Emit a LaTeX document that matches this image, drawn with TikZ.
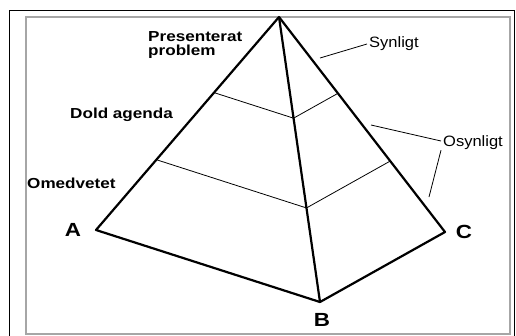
\documentclass[tikz,border=0pt]{standalone}
\usepackage{fontspec}
\setmainfont{Liberation Sans}
\newfontfamily\labfont[FakeStretch=1.18]{Liberation Sans}
\newfontfamily\notefont[FakeStretch=1.1]{Liberation Sans}
\usetikzlibrary{calc}
\usetikzlibrary{positioning}

\begin{document}
\begin{tikzpicture}[x=1pt, y=-1pt,
        edge/.style={line width=2.2pt, line join=round},
        layer/.style={line width=0.8pt},
        leader/.style={line width=0.8pt},
        levelname/.style={inner sep=0pt, font=\labfont\bfseries\fontsize{14.5}{14}\selectfont, align=left},
        note/.style={inner sep=2pt, font=\notefont\fontsize{15}{15}\selectfont},
        corner/.style={inner sep=0pt, font=\labfont\bfseries\fontsize{19}{19}\selectfont}]
            \useasboundingbox (0,0) rectangle (516,335);
            % frames
            \draw[line width=1pt] (9,340) -- (9,10) -- (514,10) -- (514,340);
            \draw[gray!70, line width=1.5pt] (26,17) rectangle (510,334);
            % pyramid
            \coordinate (apex) at (279,17);
            \coordinate (A) at (96,230);
            \coordinate (B) at (320,302);
            \coordinate (C) at (445,232);
            \foreach \f[count=\i from 1] in {0.355, 0.67}
            {
                \coordinate (a\i) at ($(apex)!\f!(A)$);
                \coordinate (b\i) at ($(apex)!\f!(B)$);
                \coordinate (c\i) at ($(apex)!\f!(C)$);
                \draw[layer] (a\i) -- (b\i) -- (c\i);
            }
            \draw[edge] (apex) -- (A) -- (B) -- (C) -- cycle;
            \draw[edge] (apex) -- (B);
            % labels
            \node[levelname, anchor=north west] (pres) at (148,31) {Presenterat\\problem};
            \node[levelname, anchor=west] (dold) at (70,115) {Dold agenda};
            \node[levelname, anchor=west] (omed) at (27,183) {Omedvetet};
            \node[corner] (labA) at (73,230) {A};
            \node[corner] (labB) at (322,320) {B};
            \node[corner] (labC) at (464,232) {C};
            \node[note, anchor=west] (syn) at (367,44) {Synligt};
            \node[note, anchor=west] (osyn) at (441,143) {Osynligt};
            % leaders
            \coordinate (s1) at (320,58);
            \coordinate (o1) at (371,125);
            \coordinate (o2) at (429,197);
            \draw[leader] (s1) -- (syn.west);
            \draw[leader] (o1) -- ($(osyn.west)+(0,-2)$);
            \draw[leader] ($(osyn.south west)+(0,-2)$) -- (o2);
        \end{tikzpicture}
\end{document}
